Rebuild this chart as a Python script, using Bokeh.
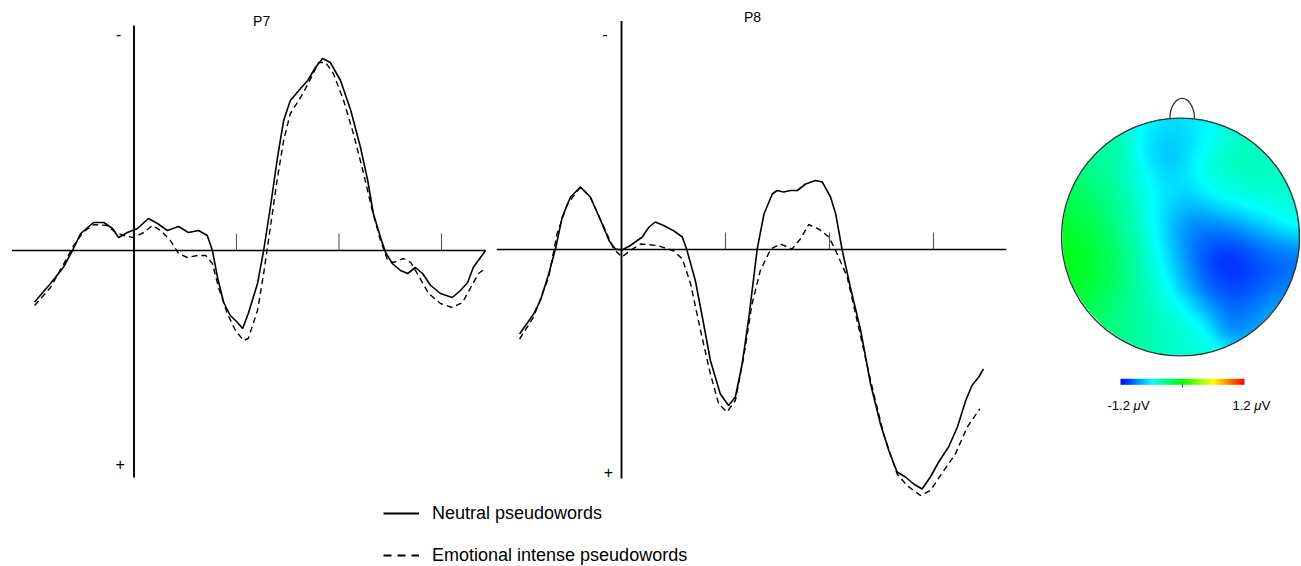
import numpy as np
from bokeh.plotting import figure
from bokeh.models import (Range1d, LinearColorMapper, ColorBar, FixedTicker,
                          Legend, LegendItem)
from bokeh.core.properties import value
from bokeh.embed import file_html
from bokeh.resources import INLINE

# ---------------- data (ms, microvolts; negative plotted up) ----------------
p7_t_neutral = [-194, -163, -138, -120, -104, -79, -59, -42, -30, -13, 7, 28, 46, 65, 87, 106, 126, 143, 153, 163,
                175, 188, 202, 212, 223, 241, 253, 266, 280, 292, 305, 325, 339, 354, 368, 383, 403, 423, 442, 456,
                467, 481, 491, 504, 520, 534, 549, 563, 579, 598, 621, 637, 651, 662, 676, 686]
p7_v_neutral = [1.03, 0.66, 0.34, 0.00, -0.34, -0.56, -0.56, -0.44, -0.26, -0.36, -0.44, -0.64, -0.54, -0.40, -0.48,
                -0.36, -0.40, -0.30, 0.00, 0.54, 1.04, 1.30, 1.44, 1.56, 1.26, 0.66, 0.00, -0.86, -1.86, -2.60,
                -3.00, -3.24, -3.40, -3.66, -3.84, -3.76, -3.40, -2.80, -2.06, -1.40, -0.74, -0.26, 0.04, 0.26,
                0.40, 0.46, 0.34, 0.46, 0.70, 0.86, 0.94, 0.80, 0.64, 0.34, 0.14, 0.00]
p7_t_emotional = [-194, -163, -130, -120, -100, -79, -52, -36, -20, -1, 19, 36, 52, 71, 87, 104, 124, 140, 153, 165,
                  182, 198, 214, 223, 241, 253, 266, 280, 292, 305, 325, 340, 360, 374, 389, 409, 428, 448, 465, 481,
                  495, 506, 526, 540, 555, 575, 598, 621, 641, 657, 672, 686]
p7_v_emotional = [1.10, 0.74, 0.14, -0.06, -0.36, -0.52, -0.50, -0.36, -0.30, -0.26, -0.36, -0.50, -0.40, -0.20,
                  0.06, 0.14, 0.10, 0.10, 0.26, 0.74, 1.26, 1.60, 1.80, 1.76, 1.20, 0.46, -0.46, -1.46, -2.20,
                  -2.74, -3.06, -3.34, -3.76, -3.76, -3.54, -3.00, -2.34, -1.54, -0.80, -0.20, 0.20, 0.24, 0.16,
                  0.24, 0.50, 0.86, 1.06, 1.14, 1.04, 0.74, 0.46, 0.36]

p8_t_neutral = [-196, -169, -156, -140, -127, -114, -98, -79, -60, -40, -24, -12, 1, 17, 40, 53, 65, 81, 101, 117,
                126, 142, 158, 171, 190, 206, 219, 232, 245, 261, 274, 290, 299, 312, 325, 338, 354, 373, 386, 402,
                412, 424, 440, 460, 479, 498, 514, 530, 546, 562, 578, 594, 610, 629, 646, 662, 674, 687, 696]
p8_v_neutral = [1.69, 1.29, 1.02, 0.49, -0.01, -0.65, -1.05, -1.25, -1.05, -0.58, -0.18, -0.01, 0.01, -0.08, -0.25,
                -0.45, -0.55, -0.48, -0.37, -0.25, 0.02, 0.62, 1.49, 2.22, 2.89, 3.12, 2.95, 2.29, 1.35, -0.01,
                -0.71, -1.11, -1.18, -1.15, -1.18, -1.18, -1.31, -1.38, -1.35, -1.05, -0.71, -0.01, 0.75, 1.62,
                2.69, 3.49, 4.02, 4.45, 4.55, 4.69, 4.79, 4.55, 4.25, 3.95, 3.55, 3.02, 2.72, 2.55, 2.39]
p8_t_emotional = [-196, -169, -140, -124, -104, -79, -60, -34, -15, 1, 17, 37, 69, 101, 117, 133, 152, 171, 187, 203,
                  219, 235, 251, 267, 287, 306, 328, 344, 360, 379, 399, 415, 434, 453, 479, 504, 530, 549, 575, 594,
                  620, 642, 665, 689]
p8_v_emotional = [1.79, 1.35, 0.55, -0.31, -0.91, -1.25, -1.05, -0.45, -0.01, 0.15, 0.02, -0.11, -0.08, 0.03, 0.19,
                  0.69, 1.62, 2.49, 3.09, 3.25, 3.02, 2.15, 1.09, 0.42, -0.01, -0.11, -0.01, -0.21, -0.50, -0.41,
                  -0.25, 0.09, 0.55, 1.42, 2.62, 3.69, 4.49, 4.72, 4.92, 4.82, 4.42, 4.09, 3.55, 3.19]

tick_times = [200, 400, 600]
p7_axis_t = [-238, 686]
p7_axis_v = [-4.50, 4.54]
p8_axis_t = [-240, 740]
p8_axis_v = [-4.57, 4.58]

# scalp map: sample positions (head units, radius 1) and amplitudes (microvolts)
elec_x = [-0.17, -0.11, -0.06, 0.45, 0.67, -0.50, -0.73, -0.78, -0.45, -0.45, 0.00, 0.39, 0.82, 0.95, 0.06,
          0.36, 0.95, 0.50, 0.20, 0.30, -0.35, -0.70, 0.00, -0.70, 0.70, -1.00, 1.00, 0.70, 0.00, -0.70,
          -0.34, -0.22, -0.17, -0.03, 0.17, 0.31, 0.22, 0.14, 0.31, 0.56, 0.95]
elec_y = [0.74, 0.68, 0.94, 0.79, 0.60, 0.74, 0.32, -0.24, -0.10, -0.72, -0.94, -0.80, -0.52, -0.16, 0.10,
          -0.18, 0.32, -0.10, -0.45, 0.60, 0.35, -0.60, 1.00, 0.70, 0.70, 0.00, 0.00, -0.70, -1.00, -0.70,
          0.74, 0.18, -0.16, -0.55, -0.77, -0.94, 0.85, 0.54, 0.35, 0.26, 0.10]
elec_v = [-0.70, -0.72, -0.68, -0.47, -0.45, -0.42, -0.26, -0.11, -0.34, -0.34, -0.49, -0.82, -0.86, -0.90, -0.84,
          -1.06, -0.50, -1.00, -0.90, -0.50, -0.50, -0.22, -0.66, -0.38, -0.45, -0.08, -0.72, -0.82, -0.49, -0.25,
          -0.60, -0.60, -0.60, -0.60, -0.60, -0.60, -0.60, -0.60, -0.60, -0.60, -0.60]
cbar_low, cbar_high = -1.2, 1.2

# ---------------- scalp interpolation (thin-plate spline) ----------------
ex, ey, ev = np.array(elec_x), np.array(elec_y), np.array(elec_v)


def tps(r):
    out = np.zeros_like(r)
    m = r > 0
    out[m] = r[m] ** 2 * np.log(r[m])
    return out


n = len(ex)
K = tps(np.hypot(ex[:, None] - ex[None, :], ey[:, None] - ey[None, :])) + 1e-3 * np.eye(n)
P = np.column_stack([np.ones(n), ex, ey])
A = np.zeros((n + 3, n + 3))
A[:n, :n] = K
A[:n, n:] = P
A[n:, :n] = P.T
sol = np.linalg.solve(A, np.concatenate([ev, np.zeros(3)]))
w, a = sol[:n], sol[n:]
N = 240
g = np.linspace(-1, 1, N)
GX, GY = np.meshgrid(g, g)
gx, gy = GX.ravel(), GY.ravel()
field = tps(np.hypot(gx[:, None] - ex[None, :], gy[:, None] - ey[None, :])) @ w + a[0] + a[1] * gx + a[2] * gy
field = np.clip(field.reshape(N, N), cbar_low, cbar_high)
field[GX ** 2 + GY ** 2 > 1.0] = np.nan

# colour map blue-cyan-green-yellow-red
stops = [(0.0, (0, 0, 255)), (0.25, (0, 255, 255)), (0.5, (0, 255, 0)), (0.75, (255, 255, 0)), (1.0, (255, 0, 0))]
palette = []
for i in range(256):
    f = i / 255
    for (f0, c0), (f1, c1) in zip(stops[:-1], stops[1:]):
        if f0 <= f <= f1:
            u = (f - f0) / (f1 - f0)
            c = [int(round(c0[k] + (c1[k] - c0[k]) * u)) for k in range(3)]
            palette.append("#%02x%02x%02x" % tuple(c))
            break
mapper = LinearColorMapper(palette=palette, low=cbar_low, high=cbar_high, nan_color="rgba(0,0,0,0)")

# ---------------- figure ----------------
FONT = value("Liberation Sans")
W, H = 1300, 565
p = figure(width=W, height=H, output_backend="svg", toolbar_location=None,
           x_range=Range1d(-260.49, 2276.1), y_range=Range1d(6.30, -5.00),
           x_axis_type=None, y_axis_type=None, min_border=0, outline_line_color=None,
           background_fill_color="white", border_fill_color="white")
p.extra_x_ranges = {"p8x": Range1d(-1194.23, 1305.77), "hx": Range1d(-9.916, 1.0084)}
p.extra_y_ranges = {"p8y": Range1d(6.32, -4.98), "hy": Range1d(-2.7605, 1.9874)}

tick_len = 0.34
for xr, yr, axt, axv, title, minus_xy, plus_xy in [
        ("default", "default", p7_axis_t, p7_axis_v, ("P7", 249, -4.60), (-30, -4.34), (-27, 4.26)),
        ("p8x", "p8y", p8_axis_t, p8_axis_v, ("P8", 252, -4.66), (-32, -4.32), (-25, 4.44))]:
    kw = dict(x_range_name=xr, y_range_name=yr)
    p.segment(x0=[axt[0]], y0=[0], x1=[axt[1]], y1=[0], line_color="black", line_width=1.6, **kw)
    p.segment(x0=[0], y0=[axv[0]], x1=[0], y1=[axv[1]], line_color="black", line_width=1.9, **kw)
    p.segment(x0=tick_times, y0=[0] * 3, x1=tick_times, y1=[-tick_len] * 3, line_color="#555555", line_width=1.1, **kw)
    p.text(x=[title[1]], y=[title[2]], text=[title[0]], text_font=FONT, text_font_size="14px",
           text_align="center", text_baseline="middle", text_color="black", **kw)
    p.text(x=[minus_xy[0], plus_xy[0]], y=[minus_xy[1], plus_xy[1]], text=["-", "+"], text_font=FONT,
           text_font_size="16px", text_align="center", text_baseline="middle", text_color="black", **kw)

p.line(p7_t_neutral, p7_v_neutral, line_color="black", line_width=1.6)
p.line(p7_t_emotional, p7_v_emotional, line_color="black", line_width=1.4, line_dash="6 4")
p.line(p8_t_neutral, p8_v_neutral, line_color="black", line_width=1.6, x_range_name="p8x", y_range_name="p8y")
p.line(p8_t_emotional, p8_v_emotional, line_color="black", line_width=1.4, line_dash="6 4",
       x_range_name="p8x", y_range_name="p8y")

# scalp map
hk = dict(x_range_name="hx", y_range_name="hy")
p.ellipse(x=0.014, y=0.995, width=0.207, height=0.34, fill_color=None, line_color="#333333", line_width=1.3, **hk)
p.image(image=[field], x=-1, y=-1, dw=2, dh=2, color_mapper=mapper, **hk)
p.circle(x=0, y=0, radius=1, fill_color=None, line_color="#333333", line_width=1.3, **hk)

cbar = ColorBar(color_mapper=mapper, orientation="horizontal", location=(1120, 177.7), width=124, height=6,
                padding=0, margin=0, ticker=FixedTicker(ticks=[0]), major_label_overrides={0: ""},
                major_tick_in=0, major_tick_out=3, major_tick_line_color="#444444", label_standoff=0,
                bar_line_color=None, border_line_color=None, background_fill_alpha=0,
                major_label_text_font_size="1px")
p.add_layout(cbar)

lab_y = -1.412
p.text(x=[-0.425, 0.589], y=[lab_y, lab_y], text=["-1.2", "1.2"], text_font=FONT, text_font_size="13px",
       text_align="right", text_baseline="alphabetic", text_color="black", **hk)
p.text(x=[-0.395, 0.619], y=[lab_y, lab_y], text=["\u03bc", "\u03bc"], text_font=FONT, text_font_size="13px",
       text_font_style="italic", text_align="left", text_baseline="alphabetic", text_color="black", **hk)
p.text(x=[-0.332, 0.682], y=[lab_y, lab_y], text=["V", "V"], text_font=FONT, text_font_size="13px",
       text_align="left", text_baseline="alphabetic", text_color="black", **hk)

# legend (sample glyphs only; no plotted data)
nan2 = np.array([np.nan, np.nan])
r_solid = p.line(x=nan2, y=nan2, line_color="black", line_width=1.8)
r_dash = p.line(x=nan2, y=nan2, line_color="black", line_width=1.8, line_dash="8 6")
legend = Legend(items=[LegendItem(label="Neutral pseudowords", renderers=[r_solid]),
                       LegendItem(label="Emotional intense pseudowords", renderers=[r_dash])],
                location=(383, -0.5), orientation="vertical", glyph_width=36, glyph_height=20,
                label_height=20, label_standoff=13, spacing=21, padding=0, margin=0,
                border_line_color=None, background_fill_alpha=0,
                label_text_font="Liberation Sans", label_text_font_size="18px", label_text_color="black")
p.add_layout(legend)

open("out.html", "w").write(file_html(p, INLINE))
